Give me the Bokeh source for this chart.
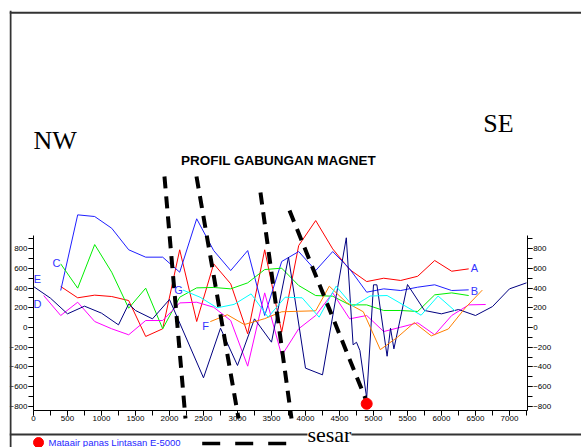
from bokeh.plotting import figure
from bokeh.models import LinearAxis, SingleIntervalTicker, Span, Range1d, Label
from bokeh.core.properties import value
from bokeh.embed import file_html
from bokeh.resources import INLINE

# ---------------- data ----------------
ABC_x = [400, 650, 900, 1150, 1400, 1650, 1900, 2150, 2400, 2650, 2900, 3150, 3400,
         3650, 3900, 4150, 4400, 4650, 4900, 5150, 5400, 5650, 5900, 6150, 6400]
A_y = [417, 302, 329, 315, 274, -91, -13, 790, 61, 647, 444, -64, 790,
       -47, 833, 1087, 799, 589, 467, 501, 478, 521, 681, 572, 596]
B_y = [376, 1145, 1128, 1009, 790, 715, 715, 562, 1105, 782, 579, 782, 122,
       671, 772, 579, 772, 596, 359, 393, 376, 410, 434, 376, 383]
C_y = [647, 400, 843, 562, 196, 400, -13, 308, 403, 407, 393, 454, 589,
       603, 427, 325, 318, 230, 230, 173, 173, 163, 332, 352, 325]

D_x = [150, 400, 650, 900, 1150, 1400, 1650, 1900, 2150, 2400, 2650, 2900, 3150, 3400,
       3650, 3900, 4150, 4400, 4650, 4900, 5150, 5400, 5650, 5900, 6150, 6400, 6650]
D_y = [325, 122, 257, 61, -13, -74, 71, 71, 250, 257, 206, 71, -393, 352,
       -285, -13, 122, 352, 88, 122, -41, 3, 48, -74, 122, 230, 234]

E_x = [0, 250, 500, 750, 1000, 1250, 1400, 1500, 1750, 2000, 2500, 2750, 3000, 3250,
       3500, 3750, 4000, 4250, 4600, 4700, 4750, 4800, 4900, 5000, 5050, 5200, 5250,
       5300, 5500, 5750, 6000, 6250, 6500, 6750, 7000, 7250]
E_y = [417, 298, 139, 217, 146, 27, 240, 173, 88, 285, -511, -7, -386, 88,
       -149, 715, -413, -481, 912, -176, -150, -234, -718, 434, 434, -292, -7,
       -217, 437, 173, 139, 183, 122, 213, 393, 454]

F_x = [2600, 2850, 3100, 3400, 3650, 3900, 4150, 4350, 4600, 4850, 5100, 5350, 5600,
       5850, 6100, 6350, 6600]
F_y = [60, 130, 30, 90, 160, 165, 170, 420, 255, 160, -225, -100, 50, -85, -15, 200, 380]

G_x = [2200, 2450, 2700, 2950, 3200, 3450, 3700, 3950, 4200, 4450, 4700, 4950, 5200,
       5450, 5700, 5950, 6200]
G_y = [380, 308, 200, 235, 342, 105, 308, 302, 105, 420, 215, 320, 325, 225, 125, 320, 168]

# faults (sesar)
fault_xs = [[1926, 2235], [2397, 3015], [3338, 3794], [3765, 4882]]
fault_ys = [[1535, -925], [1535, -925], [1372, -925], [1189, -722]]

# hot spring (mataair panas)
spring_x = [4900]
spring_y = [-775]

series_labels = ["A", "B", "C", "D", "E", "F", "G"]
label_x = [6485, 6485, 338, 59, 59, 2530, 2132]
label_y = [600, 376, 660, 234, 488, 20, 386]

SANS = "Liberation Sans"
SERIF = "Liberation Serif"

p = figure(width=581, height=447, output_backend="svg", toolbar_location=None,
           x_axis_type=None, y_axis_type=None,
           x_range=Range1d(-352.9, 8058.8), y_range=Range1d(-1219.5, 3222),
           min_border_left=9, min_border_right=0, min_border_top=10, min_border_bottom=0)
p.outline_line_color = None
p.background_fill_color = "white"

# outer frame lines
for loc in (3200, -1087):
    p.add_layout(Span(location=loc, dimension="width", line_color="#333333", line_width=2))
p.add_layout(Span(location=-338, dimension="height", line_color="#333333", line_width=2))

# axes
def style_axis(ax):
    ax.axis_line_color = "black"
    ax.major_tick_in = 0
    ax.major_tick_out = 5
    ax.minor_tick_in = 0
    ax.minor_tick_out = 5
    ax.major_tick_line_color = "black"
    ax.minor_tick_line_color = "black"
    ax.major_label_text_font = SANS
    ax.major_label_text_font_size = "8px"
    ax.major_label_text_color = "black"
    ax.major_label_standoff = 1

yl = LinearAxis(fixed_location=0, bounds=(-843, 935),
                ticker=SingleIntervalTicker(interval=200, num_minor_ticks=2))
yr = LinearAxis(fixed_location=7260, bounds=(-843, 935),
                ticker=SingleIntervalTicker(interval=200, num_minor_ticks=2))
xb = LinearAxis(fixed_location=-843, bounds=(0, 7260),
                ticker=SingleIntervalTicker(interval=500, num_minor_ticks=2))
for ax in (yl, yr, xb):
    style_axis(ax)
p.add_layout(yl, "left")
p.add_layout(yr, "right")
p.add_layout(xb, "below")

# series
p.line(ABC_x, A_y, line_color="#ff0000", line_width=1)
p.line(ABC_x, B_y, line_color="#1f1fff", line_width=1)
p.line(ABC_x, C_y, line_color="#00ee00", line_width=1)
p.line(D_x, D_y, line_color="#ff00ff", line_width=1)
p.line(E_x, E_y, line_color="#000080", line_width=1)
p.line(F_x, F_y, line_color="#ff7f00", line_width=1)
p.line(G_x, G_y, line_color="#00ffff", line_width=1)

# faults
p.multi_line(fault_xs, fault_ys, line_color="black", line_width=4, line_dash="12 8")

# hot spring
p.scatter(spring_x, spring_y, size=11, color="#ff0000")

# series labels
p.text(x=label_x, y=label_y, text=series_labels, text_color="#3333ff",
       text_font=value(SANS), text_font_size="11px",
       text_align="center", text_baseline="middle")

# headings
p.add_layout(Label(x=0, y=1900, text="NW", text_font=SERIF, text_font_size="26px",
                   text_baseline="middle", text_color="black"))
p.add_layout(Label(x=6838, y=2073, text="SE", text_font=SERIF, text_font_size="26px",
                   text_align="center", text_baseline="middle", text_color="black"))
p.add_layout(Label(x=3603, y=1697, text="PROFIL GABUNGAN MAGNET", text_font=SANS,
                   text_font_size="13.5px", text_font_style="bold",
                   text_align="center", text_baseline="middle", text_color="black"))

# legend below the frame
p.scatter([74], [-1169], size=10, color="#ff0000")
p.add_layout(Label(x=221, y=-1169, text="Mataair panas Lintasan E-5000", text_font=SANS,
                   text_font_size="9.5px", text_baseline="middle", text_color="#1f1fff"))
p.line([2481, 3721], [-1179, -1179], line_color="black", line_width=3.5, line_dash="18 15")
p.add_layout(Label(x=4029, y=-1217, text="sesar", text_font=SERIF, text_font_size="22px",
                   text_baseline="bottom", text_color="black",
                   background_fill_color="white"))

open("out.html", "w").write(file_html(p, INLINE))
